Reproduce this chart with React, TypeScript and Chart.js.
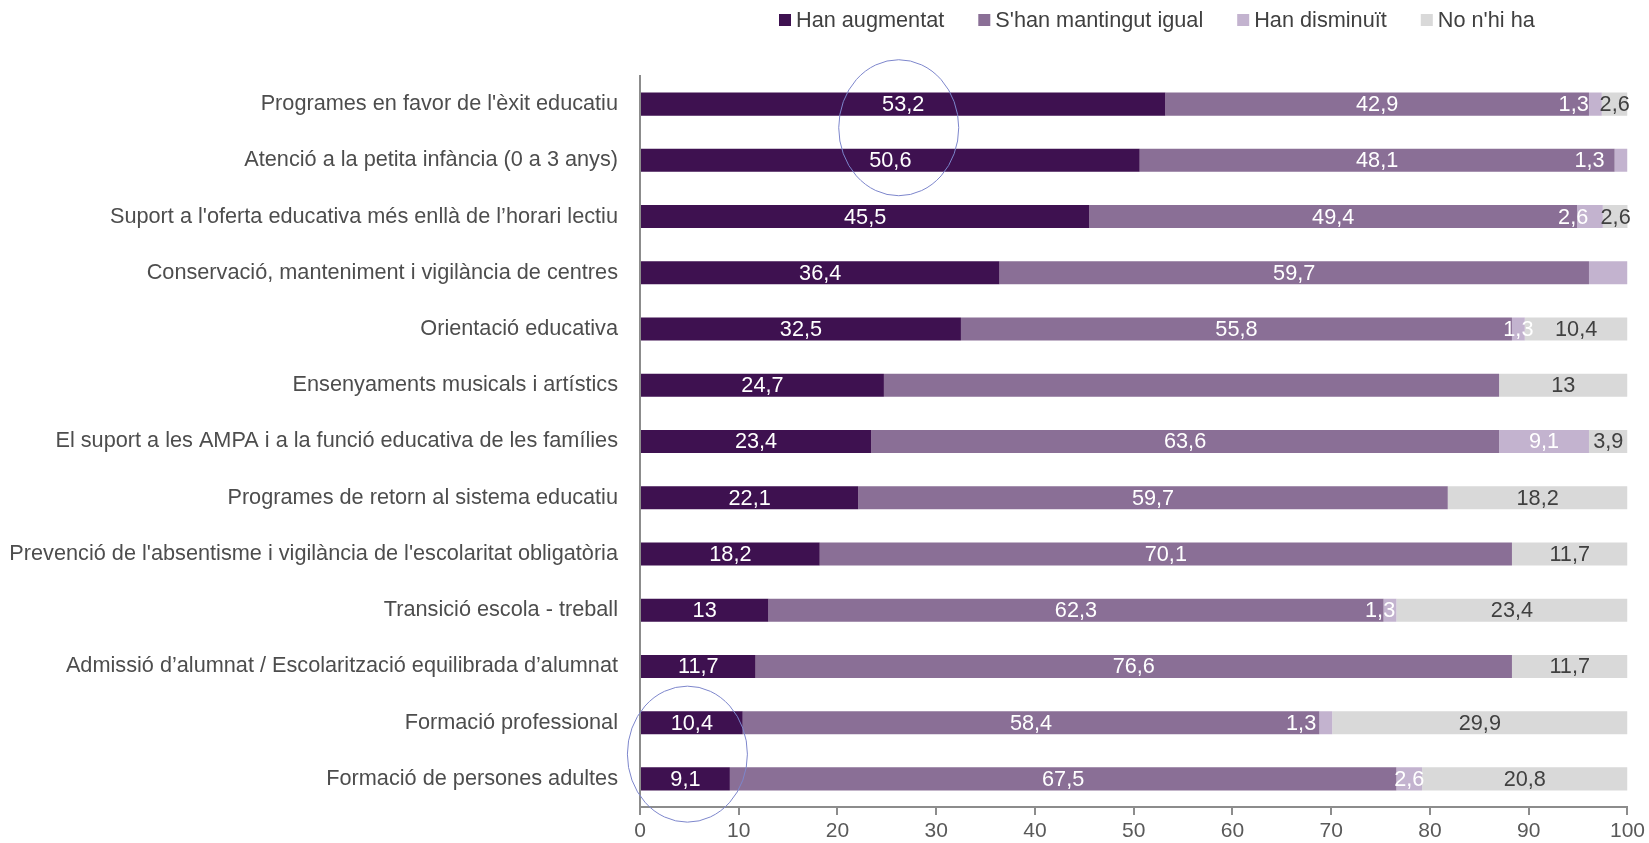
import React, { useEffect, useRef } from "react";
import { Chart, registerables } from "chart.js";

Chart.register(...registerables);

const categories = [
  "Programes en favor de l'èxit educatiu",
  "Atenció a la petita infància (0 a 3 anys)",
  "Suport a l'oferta educativa més enllà de l’horari lectiu",
  "Conservació, manteniment i vigilància de centres",
  "Orientació educativa",
  "Ensenyaments musicals i artístics",
  "El suport a les AMPA i a la funció educativa de les famílies",
  "Programes de retorn al sistema educatiu",
  "Prevenció de l'absentisme i vigilància de l'escolaritat obligatòria",
  "Transició escola - treball",
  "Admissió d’alumnat / Escolarització equilibrada d’alumnat",
  "Formació professional",
  "Formació de persones adultes",
];

const seriesNames = ["Han augmentat", "S'han mantingut igual", "Han disminuït", "No n'hi ha"];

const hanAugmentat = [53.2, 50.6, 45.5, 36.4, 32.5, 24.7, 23.4, 22.1, 18.2, 13, 11.7, 10.4, 9.1];
const hanMantingut = [42.9, 48.1, 49.4, 59.7, 55.8, 62.3, 63.6, 59.7, 70.1, 62.3, 76.6, 58.4, 67.5];
const hanDisminuit = [1.3, 1.3, 2.6, 3.9, 1.3, 0, 9.1, 0, 0, 1.3, 0, 1.3, 2.6];
const noHiHa = [2.6, 0, 2.6, 0, 10.4, 13, 3.9, 18.2, 11.7, 23.4, 11.7, 29.9, 20.8];

// labels not shown in the original: [categoryIndex, seriesIndex]
const hiddenLabels = [
  [3, 2],
  [5, 1],
];

// manually moved labels in the original: [categoryIndex, seriesIndex, shift in axis units]
const labelNudges = [
  [0, 2, -2.2],
  [1, 2, -3.2],
  [2, 2, -1.7],
  [9, 2, -1.0],
  [11, 2, -2.5],
];

const xTicks = [0, 10, 20, 30, 40, 50, 60, 70, 80, 90, 100];

// highlighted regions (value, category index)
const highlights = [
  { x: 26.2, y: 0.42 },
  { x: 4.8, y: 11.56 },
];

const colors = ["#3e1150", "#8a6f96", "#c3b3cf", "#d9d9d9"];
const labelColors = ["#ffffff", "#ffffff", "#ffffff", "#404040"];
const FONT = "'Liberation Sans', Arial, sans-serif";
const FS = 21.7;

const fmt = (v: number) => String(v).replace(".", ",");

const dataLabelPlugin = {
  id: "dataLabels",
  afterDatasetsDraw(chart: any) {
    const ctx = chart.ctx;
    const xs = chart.scales.x;
    const unit = xs.getPixelForValue(1) - xs.getPixelForValue(0);
    ctx.save();
    ctx.font = `${FS}px ${FONT}`;
    ctx.textAlign = "center";
    ctx.textBaseline = "middle";
    chart.data.datasets.forEach((ds: any, di: number) => {
      const meta = chart.getDatasetMeta(di);
      meta.data.forEach((bar: any, i: number) => {
        const v = ds.data[i];
        if (!v) return;
        if (hiddenLabels.some(([c, s]) => c === i && s === di)) return;
        const nudge = labelNudges.find(([c, s]) => c === i && s === di);
        const cx = (bar.x + bar.base) / 2 + (nudge ? nudge[2] * unit : 0);
        ctx.fillStyle = labelColors[di];
        ctx.fillText(fmt(v), cx, bar.y + 1);
      });
    });
    ctx.restore();
  },
};

const legendPlugin = {
  id: "customLegend",
  afterDraw(chart: any) {
    const ctx = chart.ctx;
    ctx.save();
    ctx.font = `${FS}px ${FONT}`;
    ctx.textBaseline = "middle";
    ctx.textAlign = "left";
    let x = 779;
    const y = 20;
    seriesNames.forEach((name, i) => {
      ctx.fillStyle = colors[i];
      ctx.fillRect(x, y - 6, 12, 12);
      x += 17;
      ctx.fillStyle = "#404040";
      ctx.fillText(name, x, y + 1);
      x += ctx.measureText(name).width + 34;
    });
    ctx.restore();
  },
};

const highlightPlugin = {
  id: "highlights",
  afterDraw(chart: any) {
    const ctx = chart.ctx;
    const xs = chart.scales.x;
    const ys = chart.scales.y;
    ctx.save();
    ctx.strokeStyle = "#7d86cc";
    ctx.lineWidth = 1;
    highlights.forEach((h) => {
      const cx = xs.getPixelForValue(h.x);
      const cy = ys.getPixelForValue(h.y);
      ctx.beginPath();
      ctx.ellipse(cx, cy, 60, 68, 0, 0, Math.PI * 2);
      ctx.stroke();
    });
    ctx.restore();
  },
};

export default function App() {
  const ref = useRef<HTMLCanvasElement>(null);
  useEffect(() => {
    if (!ref.current) return;
    const values = [hanAugmentat, hanMantingut, hanDisminuit, noHiHa];
    const chart = new Chart(ref.current, {
      type: "bar",
      data: {
        labels: categories,
        datasets: seriesNames.map((name, i) => ({
          label: name,
          data: values[i],
          backgroundColor: colors[i],
          borderWidth: 0,
          categoryPercentage: 1,
          barPercentage: 0.41,
        })),
      },
      options: {
        indexAxis: "y",
        responsive: false,
        animation: false,
        layout: { padding: { top: 76, left: 10, right: 20, bottom: 0 } },
        plugins: {
          legend: { display: false },
          tooltip: { enabled: false },
        },
        scales: {
          x: {
            stacked: true,
            min: 0,
            max: 100,
            afterBuildTicks: (scale: any) => {
              scale.ticks = xTicks.map((v) => ({ value: v }));
            },
            afterFit: (scale: any) => {
              scale.height = 36;
            },
            ticks: {
              color: "#595959",
              font: { family: FONT, size: 21 },
              padding: 4,
              maxRotation: 0,
            },
            grid: {
              display: true,
              drawOnChartArea: false,
              drawTicks: true,
              tickLength: 8,
              color: "#8c8c8c",
              lineWidth: 2,
            },
            border: { display: true, color: "#8c8c8c", width: 2 },
          },
          y: {
            stacked: true,
            afterFit: (scale: any) => {
              scale.width = 630;
            },
            ticks: {
              color: "#4d4d4d",
              font: { family: FONT, size: FS },
              padding: 14,
              autoSkip: false,
            },
            grid: { display: false },
            border: { display: true, color: "#8c8c8c", width: 2 },
          },
        },
      },
      plugins: [dataLabelPlugin, legendPlugin, highlightPlugin],
    });
    return () => chart.destroy();
  }, []);
  return (
    <div style={{ position: "fixed", left: 0, top: 0, width: 1649, height: 843, background: "#fff" }}>
      <canvas ref={ref} width={1649} height={843} style={{ display: "block" }} />
    </div>
  );
}
